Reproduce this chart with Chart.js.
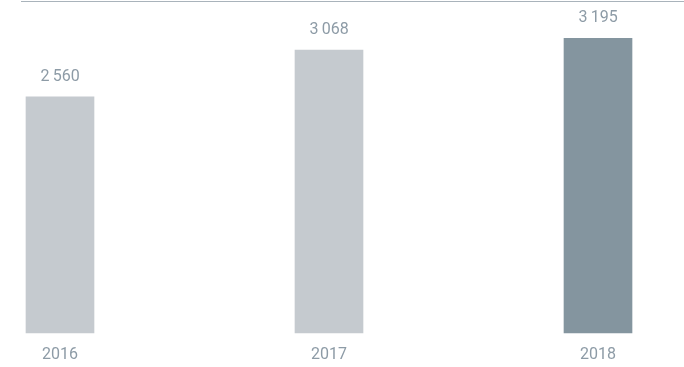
<!DOCTYPE html>
<html>
<head>
<meta charset="utf-8">
<script src="https://cdn.jsdelivr.net/npm/chart.js@4/dist/chart.umd.min.js"></script>
<style>
  html, body { margin: 0; padding: 0; background: #fff; }
  #wrap { position: relative; width: 684px; height: 367px; }
  #topLine { position: absolute; left: 21px; right: 0; top: 1px; border-top: 1px solid #a9b3bb; }
</style>
</head>
<body>
<div id="wrap">
  <canvas id="chart" width="684" height="367"></canvas>
  <div id="topLine"></div>
</div>
<script>
// -------- Datos --------
const years  = ["2016", "2017", "2018"];
const values = [2560, 3068, 3195];
const barColors = ["#c5cacf", "#c5cacf", "#84959f"];

const TEXT = "#8d9ba6";
const FONT = "Roboto, 'Liberation Sans', sans-serif";

// "2560" -> "2 560"
const fmt = v => String(v).replace(/\B(?=(\d{3})+(?!\d))/g, "\u2009");

// etiquetas de valor encima de cada barra
const valueLabels = {
  id: "valueLabels",
  afterDatasetsDraw(chart) {
    const ctx = chart.ctx;
    const meta = chart.getDatasetMeta(0);
    ctx.save();
    ctx.fillStyle = TEXT;
    ctx.font = `16px ${FONT}`;
    ctx.textAlign = "center";
    ctx.textBaseline = "bottom";
    meta.data.forEach((bar, i) => {
      ctx.fillText(fmt(values[i]), bar.x, bar.y - 12);
    });
    ctx.restore();
  }
};

new Chart(document.getElementById("chart").getContext("2d"), {
  type: "bar",
  data: {
    labels: years,
    datasets: [{
      data: values,
      backgroundColor: barColors,
      barThickness: 68,
      clip: false
    }]
  },
  options: {
    responsive: false,
    animation: false,
    layout: { padding: { left: 60, right: 86, top: 1, bottom: 0 } },
    plugins: { legend: { display: false }, tooltip: { enabled: false } },
    scales: {
      x: {
        offset: false,
        grid: { display: false, drawTicks: false },
        border: { display: false },
        ticks: { color: TEXT, font: { family: FONT, size: 16 }, padding: 12, maxRotation: 0 },
        afterFit(scale) { scale.height = 34; }
      },
      y: {
        display: false,
        min: 0,
        max: 3600
      }
    }
  },
  plugins: [valueLabels]
});
</script>
</body>
</html>
